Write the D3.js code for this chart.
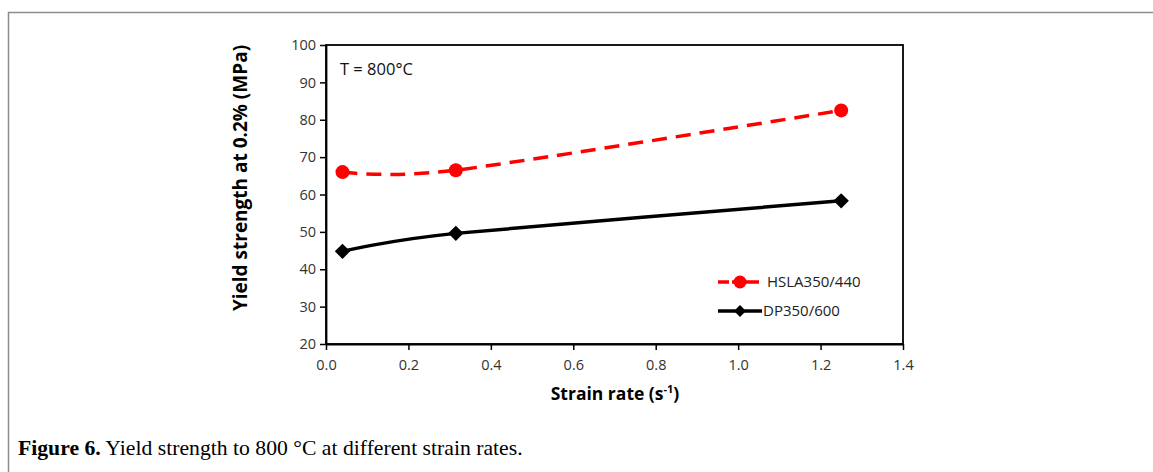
<!DOCTYPE html>
<html>
<head>
<meta charset="utf-8">
<script src="https://cdn.jsdelivr.net/npm/d3@7"></script>
<style>
  body { margin: 0; background: #fff; }
  svg text { font-family: "Open Sans", "Liberation Sans", sans-serif; }
</style>
</head>
<body>
<div id="chart"></div>
<script>
// data
var strainRates = [0.04, 0.315, 1.25];
var hslaValues = [66.0, 66.5, 82.5];
var dpValues = [44.8, 49.6, 58.3];
var xTicks = [0.0, 0.2, 0.4, 0.6, 0.8, 1.0, 1.2, 1.4];
var yTicks = [20, 30, 40, 50, 60, 70, 80, 90, 100];
var seriesNames = ["HSLA350/440", "DP350/600"];

var width = 1153, height = 472;
var plot = {left: 326, right: 903, top: 45, bottom: 344};

var svg = d3.select("#chart").append("svg")
    .attr("width", width)
    .attr("height", height);

// page frame
svg.append("rect")
    .attr("x", 8.5).attr("y", 12.5)
    .attr("width", 1160).attr("height", 480)
    .attr("fill", "none")
    .attr("stroke", "#8c8c8c")
    .attr("stroke-width", 1.5);

var x = d3.scaleLinear().domain([0, 1.4]).range([plot.left, plot.right]);
var y = d3.scaleLinear().domain([20, 100]).range([plot.bottom, plot.top]);

// plot box
svg.append("rect")
    .attr("x", plot.left).attr("y", plot.top)
    .attr("width", plot.right - plot.left)
    .attr("height", plot.bottom - plot.top)
    .attr("fill", "none")
    .attr("stroke", "#000")
    .attr("stroke-width", 1.8);

var xAxis = svg.append("g")
    .attr("transform", "translate(0," + plot.bottom + ")")
    .call(d3.axisBottom(x).tickValues(xTicks).tickFormat(d3.format(".1f")).tickSize(6).tickSizeOuter(0));
var yAxis = svg.append("g")
    .attr("transform", "translate(" + plot.left + ",0)")
    .call(d3.axisLeft(y).tickValues(yTicks).tickSize(6).tickSizeOuter(0));

[xAxis, yAxis].forEach(function (g) {
  g.select(".domain").attr("stroke", "#000").attr("stroke-width", 1.8);
  g.selectAll(".tick line").attr("stroke", "#000").attr("stroke-width", 1.5);
  g.selectAll(".tick text")
      .attr("fill", "#333")
      .style("font-size", "14.5px")
      .style("font-family", "'Open Sans', sans-serif");
});
xAxis.selectAll(".tick text").attr("dy", "1.2em");
yAxis.selectAll(".tick text").attr("x", -10);

// axis titles
svg.append("text")
    .attr("x", 615).attr("y", 400)
    .attr("text-anchor", "middle")
    .style("font-size", "17.5px").style("font-weight", "bold")
    .html('Strain rate (s<tspan dy="-7" style="font-size:11px">-1</tspan><tspan dy="7">)</tspan>');

svg.append("text")
    .attr("transform", "translate(247,178) rotate(-90)")
    .attr("text-anchor", "middle")
    .style("font-size", "19px").style("font-weight", "bold")
    .text("Yield strength at 0.2% (MPa)");

svg.append("text")
    .attr("x", 340).attr("y", 75)
    .style("font-size", "16.5px")
    .attr("fill", "#111")
    .text("T = 800°C");

var line = d3.line()
    .x(function (d) { return x(d[0]); })
    .y(function (d) { return y(d[1]); })
    .curve(d3.curveCardinal.tension(0.2));

var hsla = strainRates.map(function (s, i) { return [s, hslaValues[i]]; });
var dp = strainRates.map(function (s, i) { return [s, dpValues[i]]; });

svg.append("path")
    .datum(hsla)
    .attr("d", line)
    .attr("fill", "none")
    .attr("stroke", "#ff0000")
    .attr("stroke-width", 3.5)
    .attr("stroke-dasharray", "15,9");

svg.append("path")
    .datum(dp)
    .attr("d", line)
    .attr("fill", "none")
    .attr("stroke", "#000")
    .attr("stroke-width", 3.5);

svg.selectAll(".hsla-pt")
    .data(hsla).enter().append("circle")
    .attr("cx", function (d) { return x(d[0]); })
    .attr("cy", function (d) { return y(d[1]); })
    .attr("r", 7)
    .attr("fill", "#ff0000");

var diamond = d3.symbol().type(d3.symbolDiamond2).size(150);
svg.selectAll(".dp-pt")
    .data(dp).enter().append("path")
    .attr("d", diamond)
    .attr("transform", function (d) { return "translate(" + x(d[0]) + "," + y(d[1]) + ")"; })
    .attr("fill", "#000");

// legend
var legend = svg.append("g");
var legendY = [282, 311];
legend.append("line")
    .attr("x1", 718).attr("x2", 759).attr("y1", legendY[0]).attr("y2", legendY[0])
    .attr("stroke", "#ff0000").attr("stroke-width", 3.5).attr("stroke-dasharray", "11,3,27");
legend.append("circle")
    .attr("cx", 740).attr("cy", legendY[0]).attr("r", 6.5).attr("fill", "#ff0000");
legend.append("line")
    .attr("x1", 718).attr("x2", 762).attr("y1", legendY[1]).attr("y2", legendY[1])
    .attr("stroke", "#000").attr("stroke-width", 3.5);
legend.append("path")
    .attr("d", d3.symbol().type(d3.symbolDiamond2).size(90))
    .attr("transform", "translate(740," + legendY[1] + ")")
    .attr("fill", "#000");
legend.selectAll(".lt")
    .data(seriesNames).enter().append("text")
    .attr("x", function (d, i) { return i === 0 ? 767 : 763; })
    .attr("y", function (d, i) { return legendY[i] + 5; })
    .style("font-size", "15px")
    .attr("fill", "#222")
    .text(function (d) { return d; });

// caption
svg.append("text")
    .attr("x", 18).attr("y", 455)
    .style("font-family", "'Liberation Serif', serif")
    .style("font-size", "21.7px")
    .html('<tspan font-weight="bold">Figure 6.</tspan> Yield strength to 800 °C at different strain rates.');
</script>
</body>
</html>
